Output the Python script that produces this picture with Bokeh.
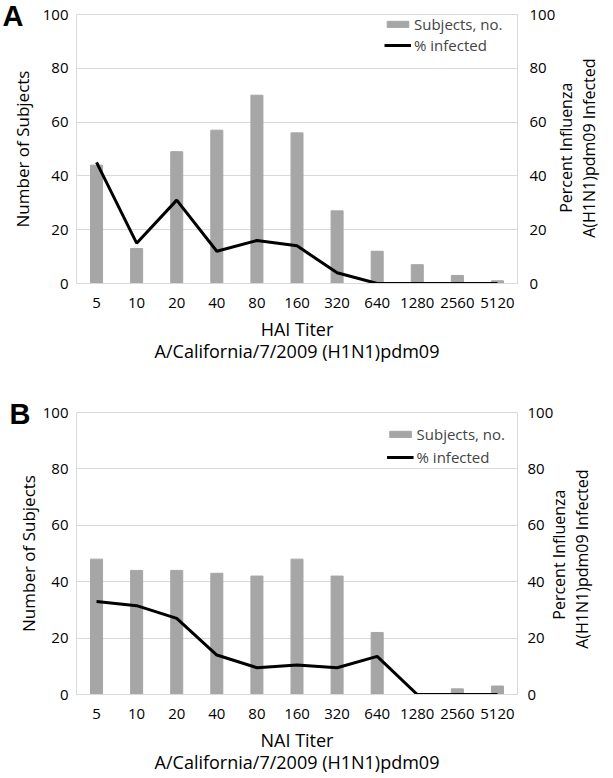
import math
from bokeh.plotting import figure
from bokeh.models import (FactorRange, Range1d, LinearAxis, Title, Legend,
                          LegendItem, ColumnDataSource, FixedTicker)
from bokeh.layouts import column
from bokeh.embed import file_html
from bokeh.resources import INLINE

titers = ["5", "10", "20", "40", "80", "160", "320", "640", "1280", "2560", "5120"]
hai_subjects = [44, 13, 49, 57, 70, 56, 27, 12, 7, 3, 1]
hai_pct_infected = [45, 15, 31, 12, 16, 14, 4, 0, 0, 0, 0]
nai_subjects = [48, 44, 44, 43, 42, 48, 42, 22, 0, 2, 3]
nai_pct_infected = [33, 31.5, 27, 14, 9.5, 10.5, 9.5, 13.5, 0, 0, 0]
y_ticks = [0, 20, 40, 60, 80, 100]
right_label_1 = "Percent Influenza"
right_label_2 = "A(H1N1)pdm09  Infected"

FONT = "Open Sans"
GRID = "#d9d9d9"
BAR = "#a6a6a6"
NB = "\u00a0"


def style_y(ax):
    ax.minor_tick_line_color = None
    ax.major_tick_line_color = None
    ax.major_tick_out = 0
    ax.major_tick_in = 0
    ax.axis_line_color = None
    ax.major_label_text_font = FONT
    ax.major_label_text_font_size = "15px"
    ax.major_label_text_color = "black"
    ax.axis_label_text_font = FONT
    ax.axis_label_text_font_size = "16px"
    ax.axis_label_text_font_style = "normal"
    ax.axis_label_text_color = "black"


def panel(letter, subjects, pct, xlabel, height, left, right, top, bottom,
          lstand, rtick, r1stand, r2stand, pad1, pad2,
          leg_margin, leg_pad, leg_spacing, leg_label_w):
    p = figure(x_range=FactorRange(*titers), y_range=Range1d(0, 100),
               width=613, height=height, output_backend="svg", toolbar_location=None,
               min_border_left=left, min_border_right=right,
               min_border_top=top, min_border_bottom=bottom)
    p.extra_y_ranges = {"pct": Range1d(0, 100)}
    src = ColumnDataSource(dict(t=titers, n=subjects, pct=pct))
    bars = p.vbar(x="t", top="n", width=0.3, source=src, color=BAR)
    line = p.line(x="t", y="pct", source=src, y_range_name="pct",
                  line_color="black", line_width=3)

    ly = p.yaxis[0]
    ly.ticker = FixedTicker(ticks=y_ticks)
    style_y(ly)
    ly.axis_label_text_font_size = "17px"
    ly.major_label_standoff = 8
    ly.axis_label = "Number of Subjects"
    ly.axis_label_standoff = lstand

    ra1 = LinearAxis(y_range_name="pct", ticker=FixedTicker(ticks=y_ticks))
    style_y(ra1)
    ra1.major_label_standoff = rtick
    ra1.axis_label = NB * pad1 + right_label_1
    ra1.axis_label_standoff = r1stand
    ra1.axis_label_orientation = math.pi / 2
    ra1.axis_label_align = "start"
    p.add_layout(ra1, "right")

    ra2 = LinearAxis(y_range_name="pct", ticker=FixedTicker(ticks=[]))
    style_y(ra2)
    ra2.major_label_standoff = 0
    ra2.axis_label = NB * pad2 + right_label_2
    ra2.axis_label_standoff = r2stand
    ra2.axis_label_orientation = math.pi / 2
    ra2.axis_label_align = "start"
    p.add_layout(ra2, "right")

    xa = p.xaxis[0]
    xa.axis_line_color = GRID
    xa.major_tick_line_color = None
    xa.minor_tick_line_color = None
    xa.major_label_text_font = FONT
    xa.major_label_text_font_size = "15px"
    xa.major_label_text_color = "black"
    xa.major_label_standoff = 8
    xa.axis_label = xlabel
    xa.axis_label_text_font = FONT
    xa.axis_label_text_font_size = "18px"
    xa.axis_label_text_font_style = "normal"
    xa.axis_label_text_color = "black"
    xa.axis_label_standoff = 6

    p.add_layout(Title(text="A/California/7/2009 (H1N1)pdm09", align="center",
                       vertical_align="top",
                       text_font=FONT, text_font_size="18px", text_font_style="normal",
                       text_color="black", standoff=-10), "below")

    p.add_layout(Title(text=letter, align="left", vertical_align="bottom",
                       offset=-left + 2, standoff=-34,
                       text_font="Liberation Sans", text_font_size="29px",
                       text_font_style="bold", text_color="black"), "above")

    p.xgrid.grid_line_color = None
    p.ygrid.grid_line_color = GRID
    p.ygrid.ticker = FixedTicker(ticks=y_ticks)
    p.outline_line_color = GRID
    p.outline_line_width = 1

    legend = Legend(items=[LegendItem(label="Subjects, no.", renderers=[bars]),
                           LegendItem(label="% infected", renderers=[line])],
                    location="top_right")
    legend.background_fill_alpha = 0
    legend.border_line_color = None
    legend.label_text_font = FONT
    legend.label_text_font_size = "15px"
    legend.glyph_width = 27
    legend.glyph_height = 8
    legend.label_height = 18
    legend.label_width = leg_label_w
    legend.label_standoff = 3
    legend.spacing = leg_spacing
    legend.margin = leg_margin
    legend.padding = leg_pad
    p.add_layout(legend)
    return p


pA = panel("A", hai_subjects, hai_pct_infected, "HAI Titer", 372, 76, 95, 14, 89,
           6, 12, 8, -3, 17, 11, 0, 0, 1, 103)
pB = panel("B", nai_subjects, nai_pct_infected, "NAI Titer", 405, 69, 88, 40, 83,
           0, 10, 3, -3, 18, 11, 12, 0, 3, 0)

layout = column(pA, pB)
open("out.html", "w").write(file_html(layout, INLINE))
